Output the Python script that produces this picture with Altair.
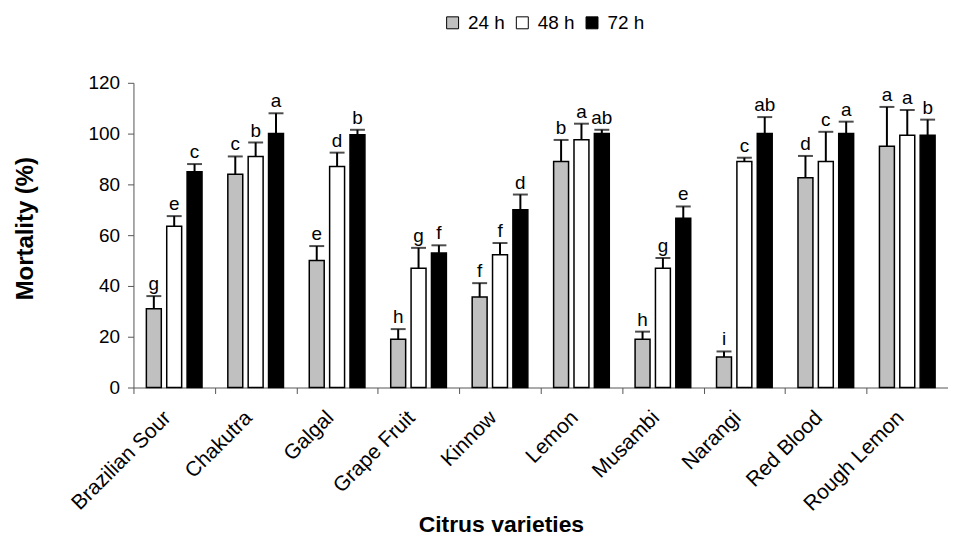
import altair as alt
import pandas as pd

varieties = ["Brazilian Sour", "Chakutra", "Galgal", "Grape Fruit", "Kinnow",
             "Lemon", "Musambi", "Narangi", "Red Blood", "Rough Lemon"]
periods = ["24 h", "48 h", "72 h"]

mort_24 = [31, 84, 50, 19, 35.6, 89, 19, 12, 82.6, 95]
err_24 = [5, 7, 5.7, 4, 5.5, 8.5, 3, 2.2, 8.6, 15.5]
mort_48 = [63.5, 91, 87, 47, 52.3, 97.6, 47, 89, 89, 99.3]
err_48 = [4, 5.5, 5.5, 8, 4.6, 6.3, 4, 1.5, 11.7, 10]
mort_72 = [85, 100, 99.5, 53, 70, 100, 66.7, 100, 100, 99.3]
err_72 = [3, 8, 2, 3, 6, 1.5, 4.6, 6.5, 4.7, 6.2]

letters_24 = ["g", "c", "e", "h", "f", "b", "h", "i", "d", "a"]
letters_48 = ["e", "b", "d", "g", "f", "a", "g", "c", "c", "a"]
letters_72 = ["c", "a", "b", "f", "d", "ab", "e", "ab", "a", "b"]

colors = ["#C0C0C0", "#FFFFFF", "#000000"]

rows = []
for p, m, e, l in zip(periods, [mort_24, mort_48, mort_72],
                      [err_24, err_48, err_72],
                      [letters_24, letters_48, letters_72]):
    for v, mv, ev, lv in zip(varieties, m, e, l):
        rows.append({"variety": v, "period": p, "mortality": mv,
                     "top": mv + ev, "letter": lv})
df = pd.DataFrame(rows)

FONT = "Liberation Sans"

x_enc = alt.X(
    "variety:N", sort=varieties,
    scale=alt.Scale(paddingInner=0, paddingOuter=0),
    axis=alt.Axis(
        title="Citrus varieties", tickBand="extent", grid=False,
        labelAngle=-45, labelAlign="right", labelBaseline="bottom",
        labelPadding=28, tickSize=6, labelFontSize=21, labelColor="black",
        domainColor="#555555", tickColor="#555555",
        titleFontSize=23, titleFontWeight="bold", titleColor="black",
        titleX=369, titleY=145, titleBaseline="alphabetic", titleAlign="center",
    ),
)
xoff_enc = alt.XOffset("period:N", sort=periods,
                       scale=alt.Scale(paddingInner=0, paddingOuter=0.5))

y_scale = alt.Scale(domain=[0, 120], nice=False)
y_axis = alt.Axis(
    title="Mortality (%)", values=[0, 20, 40, 60, 80, 100, 120], grid=False,
    tickSize=6, labelPadding=8, labelFontSize=19, labelColor="black",
    domainColor="#555555", tickColor="#555555",
    titleFontSize=24, titleFontWeight="bold", titleColor="black",
    titleX=-101, titleY=146, titleBaseline="alphabetic", titleAlign="center",
)

base = alt.Chart(df).encode(x=x_enc, xOffset=xoff_enc)

bars = base.mark_bar(width=15, stroke="black", strokeWidth=1.5).encode(
    y=alt.Y("mortality:Q", scale=y_scale, axis=y_axis),
    fill=alt.Fill(
        "period:N", sort=periods,
        scale=alt.Scale(domain=periods, range=colors),
        legend=alt.Legend(
            title=None, orient="none", legendX=311, legendY=-70,
            direction="horizontal", symbolType="square", symbolSize=144,
            symbolStrokeColor="black", symbolStrokeWidth=1,
            labelFontSize=19, labelColor="black", labelOffset=6,
            columnPadding=8, padding=0,
        ),
    ),
)

errs = base.mark_rule(strokeWidth=2, color="black").encode(
    y=alt.Y("mortality:Q", scale=y_scale), y2="top:Q"
)
caps = base.mark_tick(size=15, thickness=2, color="black").encode(
    y=alt.Y("top:Q", scale=y_scale)
)
labels = base.mark_text(dy=-6, baseline="alphabetic", fontSize=19,
                        color="black", font=FONT).encode(
    y=alt.Y("top:Q", scale=y_scale), text="letter:N"
)

chart = alt.layer(bars, errs, caps, labels).properties(
    width=818, height=306,
    autosize=alt.AutoSizeParams(type="none"),
    padding={"left": 126, "top": 74, "right": 0, "bottom": 150},
).configure(font=FONT).configure_view(stroke=None)

chart.save("out.html", embed_options={"renderer": "svg", "actions": False})
